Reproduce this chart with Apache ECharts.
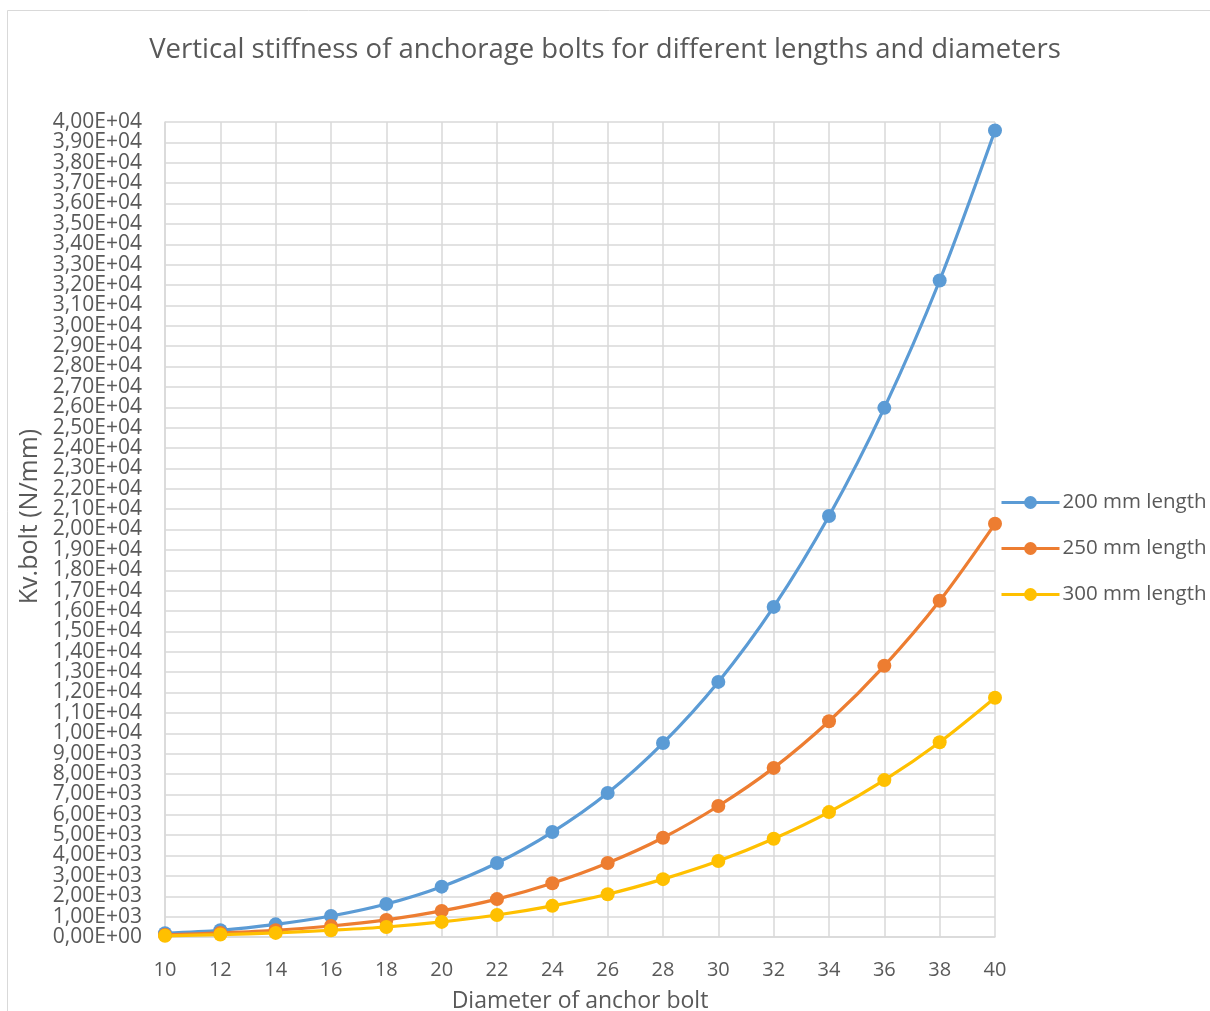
<!DOCTYPE html>
<html><head><meta charset="utf-8">
<script src="https://cdn.jsdelivr.net/npm/echarts@6/dist/echarts.min.js"></script>
<style>html,body{margin:0;padding:0;background:#fff}#c{width:1210px;height:1011px}</style>
</head><body><div id="c"></div>
<script>
const diameters = [10,12,14,16,18,20,22,24,26,28,30,32,34,36,38,40];
const len200 = [190,330,620,1030,1620,2470,3630,5150,7070,9520,12520,16200,20660,25970,32220,39580];
const len250 = [100,200,330,540,840,1280,1860,2640,3630,4870,6430,8300,10590,13310,16500,20280];
const len300 = [60,120,200,330,490,740,1080,1530,2100,2840,3730,4820,6130,7700,9560,11740];
const seriesNames = ['200 mm length','250 mm length','300 mm length'];
const colors = ['#5b9bd5','#ed7d31','#ffc000'];
const yMin = 0, yMax = 40000, yStep = 1000;

function fmt(v){
  if (v === 0) return '0,00E+00';
  const e = Math.floor(Math.log10(Math.abs(v)) + 1e-9);
  const m = v / Math.pow(10, e);
  const es = (e < 0 ? '-' : '+') + String(Math.abs(e)).padStart(2,'0');
  return m.toFixed(2).replace('.', ',') + 'E' + es;
}
const font = '"Open Sans", "Liberation Sans", sans-serif';
const chart = echarts.init(document.getElementById('c'), null, {renderer:'canvas'});
const mk = (name, data, color) => ({
  name, type:'line', smooth:0.3,
  data: diameters.map((d,i)=>[d,data[i]]),
  symbol:'circle', symbolSize:14,
  lineStyle:{width:3.2, color}, itemStyle:{color},
  z: 3
});
const yLabel = {fontFamily:font, fontSize:21, color:'#595959', margin:23, formatter:fmt, hideOverlap:false};
chart.setOption({
  animation:false,
  backgroundColor:'#fff',
  graphic:[{type:'rect', shape:{x:7.5,y:10.5,width:1220,height:1020}, style:{fill:'none', stroke:'#d9d9d9', lineWidth:1}, silent:true}],
  title:{text:'Vertical stiffness of anchorage bolts for different lengths and diameters', left:'center', top:31,
    textStyle:{fontFamily:font, fontSize:27.5, fontWeight:'normal', color:'#595959'}},
  grid:{left:165, right:215, top:122, bottom:74, containLabel:false, outerBoundsMode:'none'},
  legend:{orient:'vertical', left:995, top:487, itemGap:25, itemWidth:58, itemHeight:16,
    data:seriesNames, lineStyle:{width:3},
    textStyle:{fontFamily:font, fontSize:20.5, color:'#595959', padding:[0,0,0,-2]}},
  xAxis:{type:'value', min:10, max:40, interval:2,
    name:'Diameter of anchor bolt', nameLocation:'middle', nameGap:53,
    nameTextStyle:{fontFamily:font, fontSize:23, color:'#595959'},
    axisLine:{show:true, lineStyle:{color:'#d9d9d9', width:1.5}},
    axisTick:{show:false},
    axisLabel:{fontFamily:font, fontSize:20, color:'#595959', margin:23, showMinLabel:true, showMaxLabel:true},
    splitLine:{show:true, lineStyle:{color:'#d9d9d9', width:1.5}}},
  yAxis:[{type:'value', min:yMin, max:yMax, interval:yStep, position:'left',
    name:'Kv.bolt (N/mm)', nameLocation:'middle', nameGap:122, nameRotate:90,
    nameTextStyle:{fontFamily:font, fontSize:25, color:'#595959', padding:[0,0,0,26]},
    axisLine:{show:true, lineStyle:{color:'#d9d9d9', width:1.5}},
    axisTick:{show:false},
    axisLabel:Object.assign({showMinLabel:false, showMaxLabel:false}, yLabel),
    splitLine:{show:true, lineStyle:{color:'#d9d9d9', width:1.5}}},
   {type:'value', min:yMin, max:yMax, interval:yMax-yMin, position:'left', offset:0,
    axisLine:{show:false}, axisTick:{show:false}, splitLine:{show:false},
    axisLabel:Object.assign({showMinLabel:true, showMaxLabel:true}, yLabel)}],
  series:[mk(seriesNames[0],len200,colors[0]), mk(seriesNames[1],len250,colors[1]), mk(seriesNames[2],len300,colors[2])]
});
</script></body></html>
